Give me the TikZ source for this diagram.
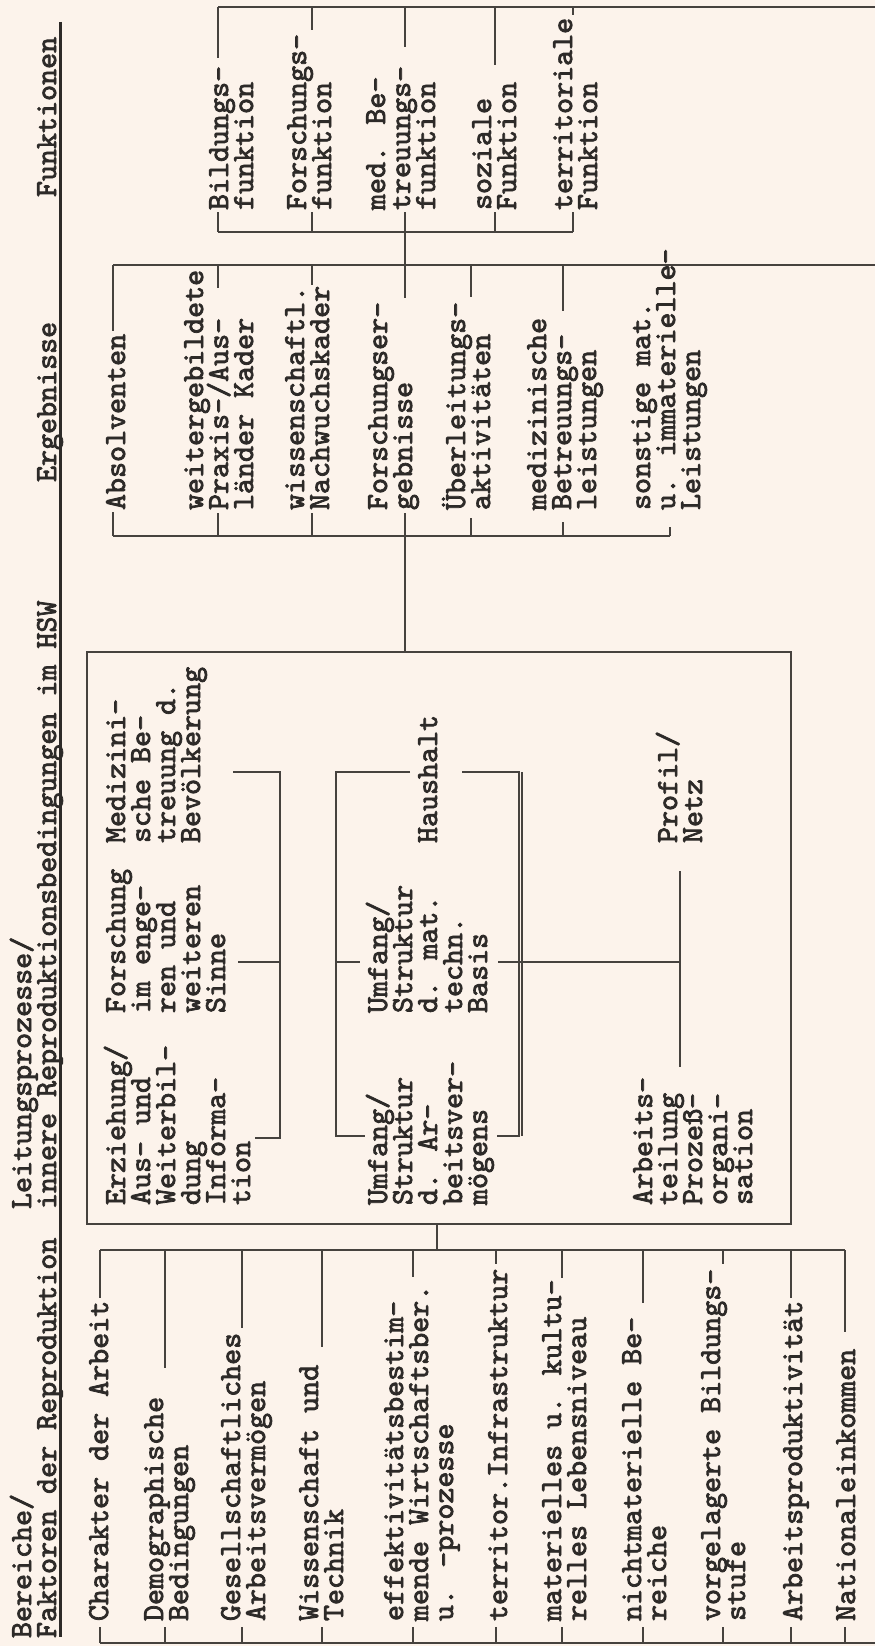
\documentclass[tikz,border=0pt]{standalone}
\usepackage{fontspec}
\newfontfamily\twfont{lmmono10-regular.otf}[FakeBold=2.5]
\definecolor{paper}{RGB}{252,243,235}
\definecolor{ink}{RGB}{45,42,40}
\definecolor{rulecol}{RGB}{70,66,62}
\newcommand{\tw}[1]{\vtop{\baselineskip=25pt\lineskiplimit=-100pt\lineskip=0pt\halign{##\hfil\cr#1\crcr}}}
\begin{document}
\begin{tikzpicture}[x=1pt,y=-1pt,
  txt/.style={rotate=90,anchor=base west,inner sep=0pt,outer sep=0pt,text=ink,
    font=\fontsize{30.5pt}{25pt}\selectfont\twfont},
  rl/.style={draw=rulecol,line width=1.2pt},
  hrule/.style={draw=ink,line width=3pt}]
\fill[paper] (0,0) rectangle (875,1646);
\useasboundingbox (0,0) rectangle (875,1646);

% ---------- headers ----------
\node[txt] (h1) at (31,1638) {\tw{Bereiche/\cr Faktoren der Reproduktion}};
\node[txt] (h2) at (31,1209) {\tw{Leitungsprozesse/\cr innere Reproduktionsbedingungen im HSW}};
\node[txt] (h3) at (56,482) {Ergebnisse};
\node[txt] (h4) at (56,197) {Funktionen};
\coordinate (hA) at (60,22);
\coordinate (hB) at (60,1637);
\draw[hrule] (hA) -- (hB);

% ---------- Funktionen ----------
\node[txt] (f1) at (228,210) {\tw{Bildungs-\cr funktion}};
\node[txt] (f2) at (306,210) {\tw{Forschungs-\cr funktion}};
\node[txt] (f3) at (385,210) {\tw{med. Be-\cr treuungs-\cr funktion}};
\node[txt] (f4) at (491,210) {\tw{soziale\cr Funktion}};
\node[txt] (f5) at (572,210) {\tw{territoriale\cr Funktion}};
\draw[rl] (218,7) -- (875,7);
\draw[rl] (218,232) -- (573,232);
\foreach \x/\e in {218/58,312/30,405/47,495/65,573/15}{\draw[rl] (\x,7) -- (\x,\e);}
\foreach \x in {218,312,495,573}{\draw[rl] (\x,212) -- (\x,232);}
\draw[rl] (405,212) -- (405,298);

% ---------- Ergebnisse ----------
\node[txt] (e1) at (125,510) {Absolventen};
\node[txt] (e2) at (203,510) {\tw{weitergebildete\cr Praxis-/Aus-\cr länder Kader}};
\node[txt] (e3) at (304,510) {\tw{wissenschaftl.\cr Nachwuchskader}};
\node[txt] (e4) at (387,510) {\tw{Forschungser-\cr gebnisse}};
\node[txt] (e5) at (465,510) {\tw{Überleitungs-\cr aktivitäten}};
\node[txt] (e6) at (546,510) {\tw{medizinische\cr Betreuungs-\cr leistungen}};
\node[txt] (e7) at (650,510) {\tw{sonstige mat.\cr u. immaterielle-\cr Leistungen}};
\draw[rl] (113,265) -- (875,265);
\draw[rl] (113,536) -- (670,536);
\foreach \x/\e in {113/331,218/288,312/285,471/297,563/311}{\draw[rl] (\x,265) -- (\x,\e);}
\foreach \x/\s in {113/512,218/513,312/513,471/518,563/522,670/527}{\draw[rl] (\x,\s) -- (\x,536);}
\draw[rl] (405,513) -- (405,652);

% ---------- Leitungsprozesse box ----------
\draw[rl] (87,652) rectangle (791,1224);
\node[txt] (m1) at (125,1205) {\tw{Erziehung/\cr Aus- und\cr Weiterbil-\cr dung\cr Informa-\cr tion}};
\node[txt] (m2) at (125,1013) {\tw{Forschung\cr im enge-\cr ren und\cr weiteren\cr Sinne}};
\node[txt] (m3) at (125,843) {\tw{Medizini-\cr sche Be-\cr treuung d.\cr Bevölkerung}};
\node[txt] (m4) at (387,1205) {\tw{Umfang/\cr Struktur\cr d. Ar-\cr beitsver-\cr mögens}};
\node[txt] (m5) at (387,1013) {\tw{Umfang/\cr Struktur\cr d. mat.\cr techn.\cr Basis}};
\node[txt] (m6) at (437,843) {Haushalt};
\node[txt] (m7) at (652,1205) {\tw{Arbeits-\cr teilung\cr Prozeß-\cr organi-\cr sation}};
\node[txt] (m8) at (677,843) {\tw{Profil/\cr Netz}};
% bracket 1
\draw[rl] (233,772) -- (280,772) -- (280,1138) -- (255,1138);
\draw[rl] (238,962) -- (280,962);
% bracket 2
\draw[rl] (410,772) -- (336,772) -- (336,1136) -- (365,1136);
\draw[rl] (336,962) -- (360,962);
% bracket 3
\draw[rl] (462,772) -- (519,772) -- (519,1136) -- (497,1136);
\draw[rl] (522,772) -- (522,1136);
\draw[rl] (498,962) -- (680,962);
\draw[rl] (680,871) -- (680,1067);
% connector to Bereiche
\draw[rl] (437,1224) -- (437,1250);

% ---------- Bereiche ----------
\node[txt] (b1) at (108,1621) {Charakter der Arbeit};
\node[txt] (b2) at (163,1621) {\tw{Demographische\cr Bedingungen}};
\node[txt] (b3) at (240,1621) {\tw{Gesellschaftliches\cr Arbeitsvermögen}};
\node[txt] (b4) at (318,1621) {\tw{Wissenschaft und\cr Technik}};
\node[txt] (b5) at (403,1621) {\tw{effektivitätsbestim-\cr mende Wirtschaftsber.\cr u. -prozesse}};
\node[txt] (b6) at (507,1621) {territor.Infrastruktur};
\node[txt] (b7) at (561,1621) {\tw{materielles u. kultu-\cr relles Lebensniveau}};
\node[txt] (b8) at (641,1621) {\tw{nichtmaterielle Be-\cr reiche}};
\node[txt] (b9) at (720,1621) {\tw{vorgelagerte Bildungs-\cr stufe}};
\node[txt] (b10) at (802,1621) {Arbeitsproduktivität};
\node[txt] (b11) at (855,1621) {Nationaleinkommen};
\draw[rl] (100,1250) -- (845,1250);
\draw[rl] (100,1643) -- (875,1643);
\foreach \x/\e in {100/1298,165/1368,242/1328,322/1347,413/1277,496/1264,562/1278,643/1303,723/1264,791/1298,845/1332}{
  \draw[rl] (\x,1250) -- (\x,\e);
  \draw[rl] (\x,1627) -- (\x,1643);}
\end{tikzpicture}
\end{document}
